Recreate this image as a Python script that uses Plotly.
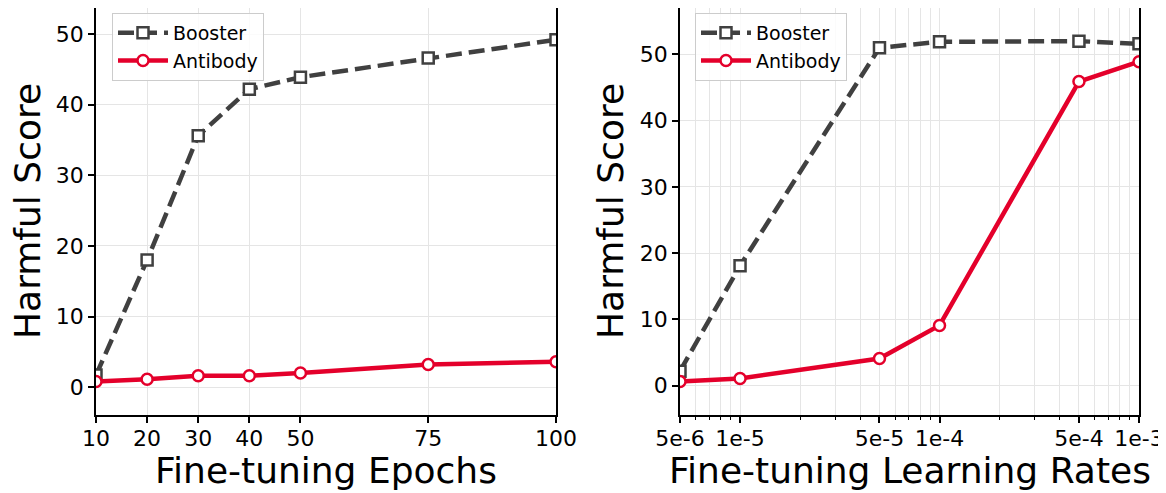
import plotly.graph_objects as go

# ---- data ----
epochs = [10, 20, 30, 40, 50, 75, 100]
epoch_labels = ["10", "20", "30", "40", "50", "75", "100"]
booster_epochs = [1.7, 18.0, 35.6, 42.2, 43.9, 46.6, 49.2]
antibody_epochs = [0.8, 1.1, 1.6, 1.6, 2.0, 3.2, 3.6]

lrs = [5e-6, 1e-5, 5e-5, 1e-4, 5e-4, 1e-3]
lr_labels = ["5e-6", "1e-5", "5e-5", "1e-4", "5e-4", "1e-3"]
booster_lr = [2.2, 18.1, 51.0, 51.9, 52.0, 51.6]
antibody_lr = [0.65, 1.1, 4.1, 9.1, 45.9, 48.9]

y_ticks = [0, 10, 20, 30, 40, 50]
minor_lr = [m * 10 ** e for e in (-6, -5, -4) for m in range(2, 10)]
minor_lr = [v for v in minor_lr if 5e-6 < v < 1e-3
            and all(abs(v - t) / t > 1e-6 for t in lrs)]

GREY = "#404040"
RED = "#e4002b"
GRID = "#e5e5e5"
FONT = "DejaVu Sans"

fig = go.Figure()

def add_series(x, y, name, color, dash, symbol, size, xa, ya, legend):
    fig.add_trace(go.Scatter(
        x=x, y=y, name=name, mode="lines+markers",
        line=dict(color=color, width=4.5, dash=dash),
        marker=dict(symbol=symbol, size=size, color="white",
                    line=dict(color=color, width=2.5)),
        xaxis=xa, yaxis=ya, legend=legend, showlegend=True,
    ))

add_series(epochs, booster_epochs, "Booster", GREY, "16px,7px", "square", 11, "x", "y", "legend")
add_series(epochs, antibody_epochs, "Antibody", RED, "solid", "circle", 11, "x", "y", "legend")
add_series(lrs, booster_lr, "Booster", GREY, "16px,7px", "square", 11, "x2", "y2", "legend2")
add_series(lrs, antibody_lr, "Antibody", RED, "solid", "circle", 11, "x2", "y2", "legend2")

# The page body has an 8px margin, so the figure is 8px smaller and
# positions below are the reference positions minus 8px.
W, H = 1158, 485
axis_common = dict(
    showline=True, linecolor="black", linewidth=1.8, mirror=True,
    ticks="outside", ticklen=6, tickwidth=1.5, tickcolor="black",
    showgrid=True, gridcolor=GRID, gridwidth=1, zeroline=False,
    automargin=False,
    tickfont=dict(family=FONT, size=22, color="black"),
)

legend_common = dict(
    xanchor="left", yanchor="top",
    bgcolor="rgba(255,255,255,0.85)", bordercolor="#cccccc",
    borderwidth=1, font=dict(family=FONT, size=19, color="black"),
    tracegroupgap=0, itemwidth=50,
)

fig.update_layout(
    template=None,
    width=W, height=H, autosize=False,
    margin=dict(l=0, r=0, t=0, b=0, pad=0),
    paper_bgcolor="white", plot_bgcolor="white",
    font=dict(family=FONT, color="black"),
    xaxis=dict(domain=[88 / W, 548 / W], range=[10, 100],
               tickmode="array", tickvals=epochs, ticktext=epoch_labels,
               ticklabelstandoff=-3,
               anchor="y", **axis_common),
    yaxis=dict(domain=[(H - 407) / H, 1.0], range=[-3.95, 53.7],
               tickmode="array", tickvals=y_ticks, anchor="x", **axis_common),
    xaxis2=dict(domain=[672 / W, 1131 / W], type="log",
                range=[-5.30103, -3.0],
                tickmode="array", tickvals=lrs, ticktext=lr_labels,
                ticklabelstandoff=-3,
                minor=dict(tickmode="array", tickvals=minor_lr, ticks="outside",
                           ticklen=3.5, tickwidth=1, tickcolor="black",
                           showgrid=True, gridcolor=GRID, gridwidth=1),
                anchor="y2", **axis_common),
    yaxis2=dict(domain=[(H - 407) / H, 1.0], range=[-4.42, 57.0],
                tickmode="array", tickvals=y_ticks, anchor="x2", **axis_common),
    legend=dict(x=104 / W, y=(H - 5) / H, **legend_common),
    legend2=dict(x=687 / W, y=(H - 5) / H, **legend_common),
)

title_font = dict(family=FONT, size=36, color="black")
fig.add_annotation(text="Fine-tuning Epochs", x=(88 + 548) / 2 / W, y=(H - 462) / H,
                   xref="paper", yref="paper", showarrow=False, font=title_font,
                   xanchor="center", yanchor="middle")
fig.add_annotation(text="Fine-tuning Learning Rates", x=(672 + 1131) / 2 / W, y=(H - 462) / H,
                   xref="paper", yref="paper", showarrow=False, font=title_font,
                   xanchor="center", yanchor="middle")
fig.add_annotation(text="Harmful Score", x=20 / W, y=(H - 203) / H, textangle=-90,
                   xref="paper", yref="paper", showarrow=False, font=title_font,
                   xanchor="center", yanchor="middle")
fig.add_annotation(text="Harmful Score", x=603 / W, y=(H - 203) / H, textangle=-90,
                   xref="paper", yref="paper", showarrow=False, font=title_font,
                   xanchor="center", yanchor="middle")

fig.write_html("out.html")
